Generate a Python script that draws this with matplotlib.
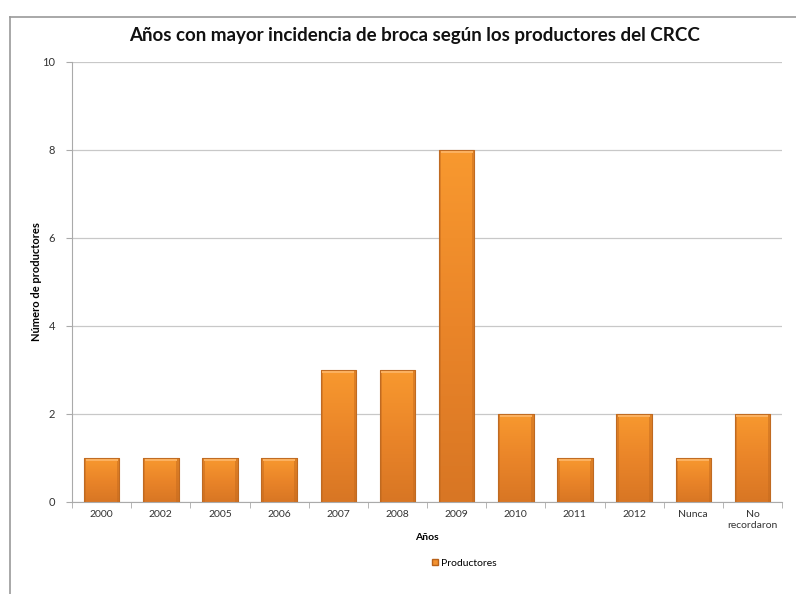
import numpy as np
import matplotlib
matplotlib.use("Agg")
import matplotlib.pyplot as plt
from matplotlib.patches import Patch
from matplotlib.lines import Line2D
from matplotlib.colors import LinearSegmentedColormap

plt.rcParams['font.family'] = ['Lato', 'DejaVu Sans']

categorias = ["2000", "2002", "2005", "2006", "2007", "2008", "2009",
              "2010", "2011", "2012", "Nunca", "No\nrecordaron"]
productores = [1, 1, 1, 1, 3, 3, 8, 2, 1, 2, 1, 2]
y_ticks = [0, 2, 4, 6, 8, 10]

W, H = 796, 594
fig = plt.figure(figsize=(W / 100, H / 100), dpi=100)
ax = fig.add_axes([72 / W, 1 - 502 / H, (782 - 72) / W, (502 - 62) / H])

# outer chart frame
fig.add_artist(Line2D([10 / W, 10 / W], [0, 1 - 17 / H], color="#9a9a9a", lw=1.2,
                      transform=fig.transFigure))
fig.add_artist(Line2D([10 / W, 1], [1 - 17 / H, 1 - 17 / H], color="#9a9a9a", lw=1.2,
                      transform=fig.transFigure))

x = np.arange(len(categorias))
width = 0.6
bars = ax.bar(x, productores, width=width, color="#F39230", edgecolor="#B8621A",
              linewidth=0.8, zorder=2, label="Productores")

# vertical shading: lighter orange at the top, deeper at the base
cmap = LinearSegmentedColormap.from_list("naranja", ["#D87624", "#EA8529", "#F8992F"])
grad = np.linspace(0, 1, 256).reshape(-1, 1)
for b in bars:
    x0, y0 = b.get_x(), b.get_y()
    w, h = b.get_width(), b.get_height()
    im = ax.imshow(grad, cmap=cmap, extent=[x0, x0 + w, y0, y0 + h], origin="lower",
                   aspect="auto", zorder=2.5, interpolation="bilinear")
    im.set_clip_path(b)
    # darker side edges
    for xs in (x0, x0 + w * 0.93):
        ax.fill_between([xs, xs + w * 0.07], y0, y0 + h, color="#C46A1E",
                        alpha=0.5, zorder=2.6, lw=0)
    # lighter bevel at the top
    ax.fill_between([x0 + w * 0.05, x0 + w * 0.95], y0 + h - 0.06, y0 + h - 0.01,
                    color="#FBB160", zorder=2.7, lw=0)
    ax.add_patch(plt.Rectangle((x0, y0), w, h, fill=False, edgecolor="#BF6A22",
                               lw=0.7, zorder=2.8))

ax.set_xlim(-0.5, len(categorias) - 0.5)
ax.set_ylim(0, 10)
ax.set_yticks(y_ticks)
ax.set_yticklabels([str(v) for v in y_ticks], fontsize=8, color="#333333")
ax.yaxis.grid(True, color="#c8c8c8", lw=0.9, zorder=0)
ax.set_axisbelow(True)

ax.set_xticks(x)
ax.set_xticklabels(categorias, fontsize=7.5, color="#333333", linespacing=1.3)
ax.set_xticks(np.arange(len(categorias) + 1) - 0.5, minor=True)
ax.tick_params(axis="x", which="major", length=0, pad=6)
ax.tick_params(axis="x", which="minor", length=4, color="#aaaaaa", direction="out")
ax.tick_params(axis="y", length=4, color="#aaaaaa", pad=8)

for s in ["top", "right"]:
    ax.spines[s].set_visible(False)
ax.spines["left"].set_color("#aaaaaa")
ax.spines["bottom"].set_color("#aaaaaa")

ax.set_xlabel("Años", fontsize=7.5, fontweight="bold", labelpad=2)
ax.set_ylabel("Número de productores", fontsize=8, fontweight="bold")
ax.yaxis.set_label_coords(-30 / (782 - 72), 0.5)

fig.text(415 / W, 1 - 36 / H,
         "Años con mayor incidencia de broca según los productores del CRCC",
         ha="center", va="center", fontsize=13.5, fontweight="bold", color="#111111")

fig.legend(handles=[Patch(facecolor="#F39230", edgecolor="#B8621A", label="Productores")],
           loc="center", bbox_to_anchor=(464 / W, 1 - 563 / H), frameon=False,
           fontsize=7.5, handlelength=0.6, handleheight=0.6, handletextpad=0.3)

fig.savefig("out.png", dpi=100, facecolor="white")
